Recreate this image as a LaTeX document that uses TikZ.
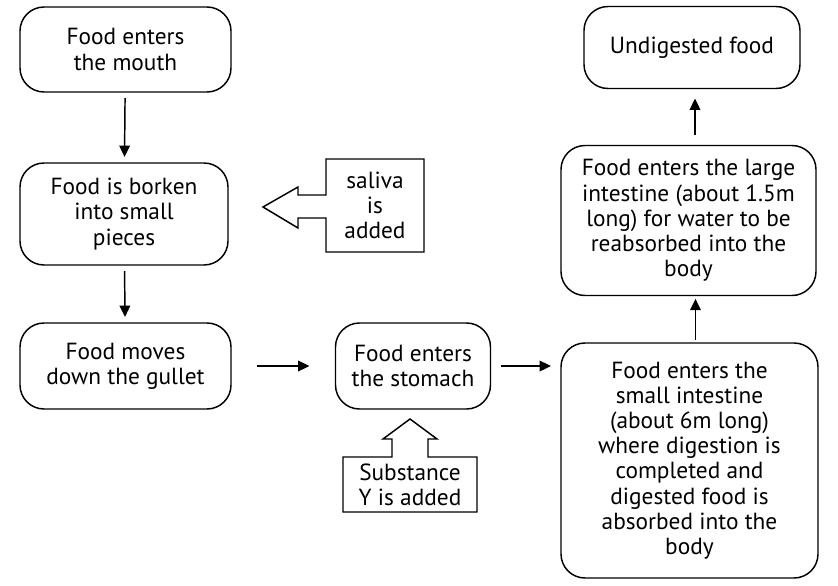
\documentclass[tikz,border=0pt]{standalone}
\usepackage{fontspec}
\setmainfont{PT Sans}
\usetikzlibrary{arrows.meta, positioning, calc}

\begin{document}
\begin{tikzpicture}[x=0.75pt, y=-0.75pt,
      box/.style={draw, line width=1.1pt, rounded corners=18pt,
                  align=center, inner sep=0pt,
                  font=\fontsize{17.5}{18.9}\selectfont},
      arr/.style={-{Triangle[length=8.5pt, width=8pt]}, line width=1.1pt},
      call/.style={draw, line width=1.1pt, fill=white},
      calltext/.style={align=center, font=\fontsize{17.5}{18.9}\selectfont}
    ]
      \useasboundingbox (0,0) rectangle (838,585);
      \node[box, minimum width=158.25pt, minimum height=63.75pt] (mouth) at (125.5,49.5)
        {Food enters\\the mouth};
      \node[box, minimum width=156pt, minimum height=76.5pt] (pieces) at (124,214)
        {Food is borken\\into small\\pieces};
      \node[box, minimum width=158.25pt, minimum height=64.5pt] (gullet) at (125.5,366)
        {Food moves\\down the gullet};
      \node[box, minimum width=116.25pt, minimum height=64.5pt] (stomach) at (413,366)
        {Food enters\\the stomach};
      \node[box, minimum width=192.75pt, minimum height=176.25pt] (small) at (689.5,460.5)
        {Food enters the\\small intestine\\(about 6m long)\\where digestion is\\completed and\\digested food is\\absorbed into the\\body};
      \node[box, minimum width=191.25pt, minimum height=112.5pt] (large) at (688.5,220.5)
        {Food enters the large\\intestine (about 1.5m\\long) for water to be\\reabsorbed into the\\body};
      \node[box, minimum width=162pt, minimum height=61.5pt] (undig) at (692,47.5)
        {Undigested food};

      % side inputs
      \draw[call] (326,159) -- (424,159) -- (424,252) -- (326,252) -- (326,218)
        -- (298,218) -- (298,228) -- (263,207) -- (298,187) -- (298,195)
        -- (326,195) -- cycle;
      \node[calltext] (saliva) at (375,205.5) {saliva\\is\\added};
      \draw[call] (343,457) -- (392,457) -- (392,439) -- (383,439) -- (410,419)
        -- (437,439) -- (428,439) -- (428,457) -- (477,457) -- (477,512)
        -- (343,512) -- cycle;
      \node[calltext] (subst) at (410,484.5) {Substance\\Y is added};

      \draw[arr, shorten <=4pt, shorten >=4pt] (mouth) -- (pieces);
      \draw[arr, shorten <=4pt, shorten >=4pt] (pieces) -- (gullet);
      \draw[arr, shorten <=19pt, shorten >=19pt] (gullet) -- (stomach);
      \draw[arr, shorten <=7pt, shorten >=7pt] (stomach.east) -- (stomach.east -| small.west);
      \coordinate (c1) at ($(small.north)+(6,0)$);
      \coordinate (c2) at ($(undig.south)+(3,0)$);
      \draw[arr, shorten <=2pt, shorten >=2pt] (c1) -- (c1 |- large.south);
      \draw[arr, shorten <=7pt, shorten >=7pt] (c2 |- large.north) -- (c2);
    \end{tikzpicture}
\end{document}
